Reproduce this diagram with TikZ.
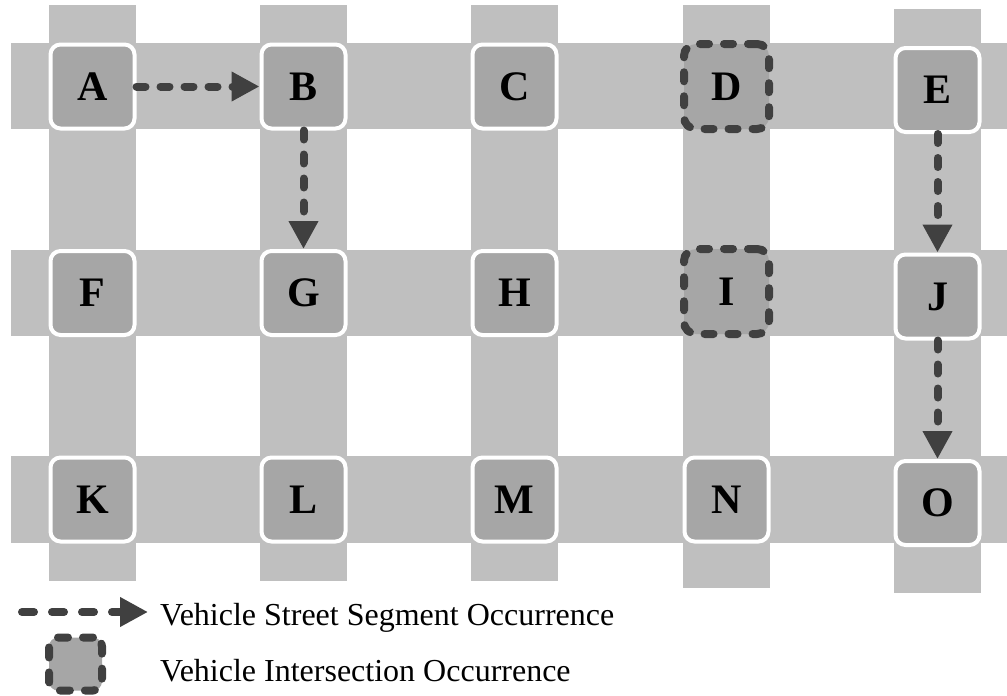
\documentclass[tikz,border=0pt]{standalone}
\usepackage{fontspec}
\setmainfont{Liberation Serif}
\usetikzlibrary{arrows.meta}
\definecolor{stripgray}{HTML}{BFBFBF}
\definecolor{boxgray}{HTML}{A6A6A6}
\definecolor{darkline}{HTML}{404040}
\tikzset{
  inter/.style={draw=white, line width=4pt, fill=boxgray, rounded corners=10pt,
    minimum width=84pt, minimum height=84pt, inner sep=0pt,
    font=\bfseries\fontsize{42}{42}\selectfont},
  occ/.style={draw=darkline, line width=8pt, fill=boxgray, rounded corners=12pt,
    minimum width=85pt, minimum height=85pt, inner sep=0pt,
    dash pattern=on 9pt off 15pt, line cap=round,
    font=\bfseries\fontsize{42}{42}\selectfont},
  legocc/.style={occ, minimum width=53pt, minimum height=53pt, rounded corners=9pt,
    dash pattern=on 10pt off 15pt},
  flow/.style={draw=darkline, line width=8pt, line cap=round,
    dash pattern=on 9pt off 15pt,
    -{Triangle[length=28pt, width=28pt]}},
  legflow/.style={flow, dash pattern=on 12pt off 18pt},
  legtext/.style={anchor=base west, inner sep=0pt, font=\fontsize{32}{36}\selectfont}
}
\begin{document}
\begin{tikzpicture}[x=1pt,y=-1pt]
\useasboundingbox (0,0) rectangle (1007,696);
% streets
\fill[stripgray] (49,5) rectangle (136,581);
\fill[stripgray] (260,5) rectangle (347,581);
\fill[stripgray] (471,5) rectangle (558,581);
\fill[stripgray] (683,5) rectangle (770,588);
\fill[stripgray] (894,9) rectangle (981,593);
\fill[stripgray] (11,43) rectangle (1007,129);
\fill[stripgray] (11,250) rectangle (1007,336);
\fill[stripgray] (11,456) rectangle (1007,543);
% intersections
\node[inter] (A) at (92.5,86.5) {A};
\node[inter] (B) at (303.5,86.5) {B};
\node[inter] (C) at (514.5,86.5) {C};
\node[occ]   (D) at (726.5,86.5) {D};
\node[inter] (E) at (937.5,90) {E};
\node[inter] (F) at (92.5,293) {F};
\node[inter] (G) at (303.5,293) {G};
\node[inter] (H) at (514.5,293) {H};
\node[occ]   (I) at (726.5,291.5) {I};
\node[inter] (J) at (937.5,296.5) {J};
\node[inter] (K) at (92.5,499.5) {K};
\node[inter] (L) at (303.5,499.5) {L};
\node[inter] (M) at (514.5,499.5) {M};
\node[inter] (N) at (726.5,499.5) {N};
\node[inter] (O) at (937.5,503) {O};
% vehicle paths
\draw[flow] (A.east) -- (B.west);
\draw[flow] (B.south) -- (G.north);
\draw[flow] (E.south) -- (J.north);
\draw[flow] (J.south) -- (O.north);
% legend
\coordinate (l1) at (22,612);
\coordinate (l2) at (148,612);
\draw[legflow] (l1) -- (l2);
\node[legtext] (t1) at (160,625) {Vehicle Street Segment Occurrence};
\node[legocc] (lbox) at (75.5,664) {};
\node[legtext] (t2) at (160,681) {Vehicle Intersection Occurrence};
\end{tikzpicture}
\end{document}
